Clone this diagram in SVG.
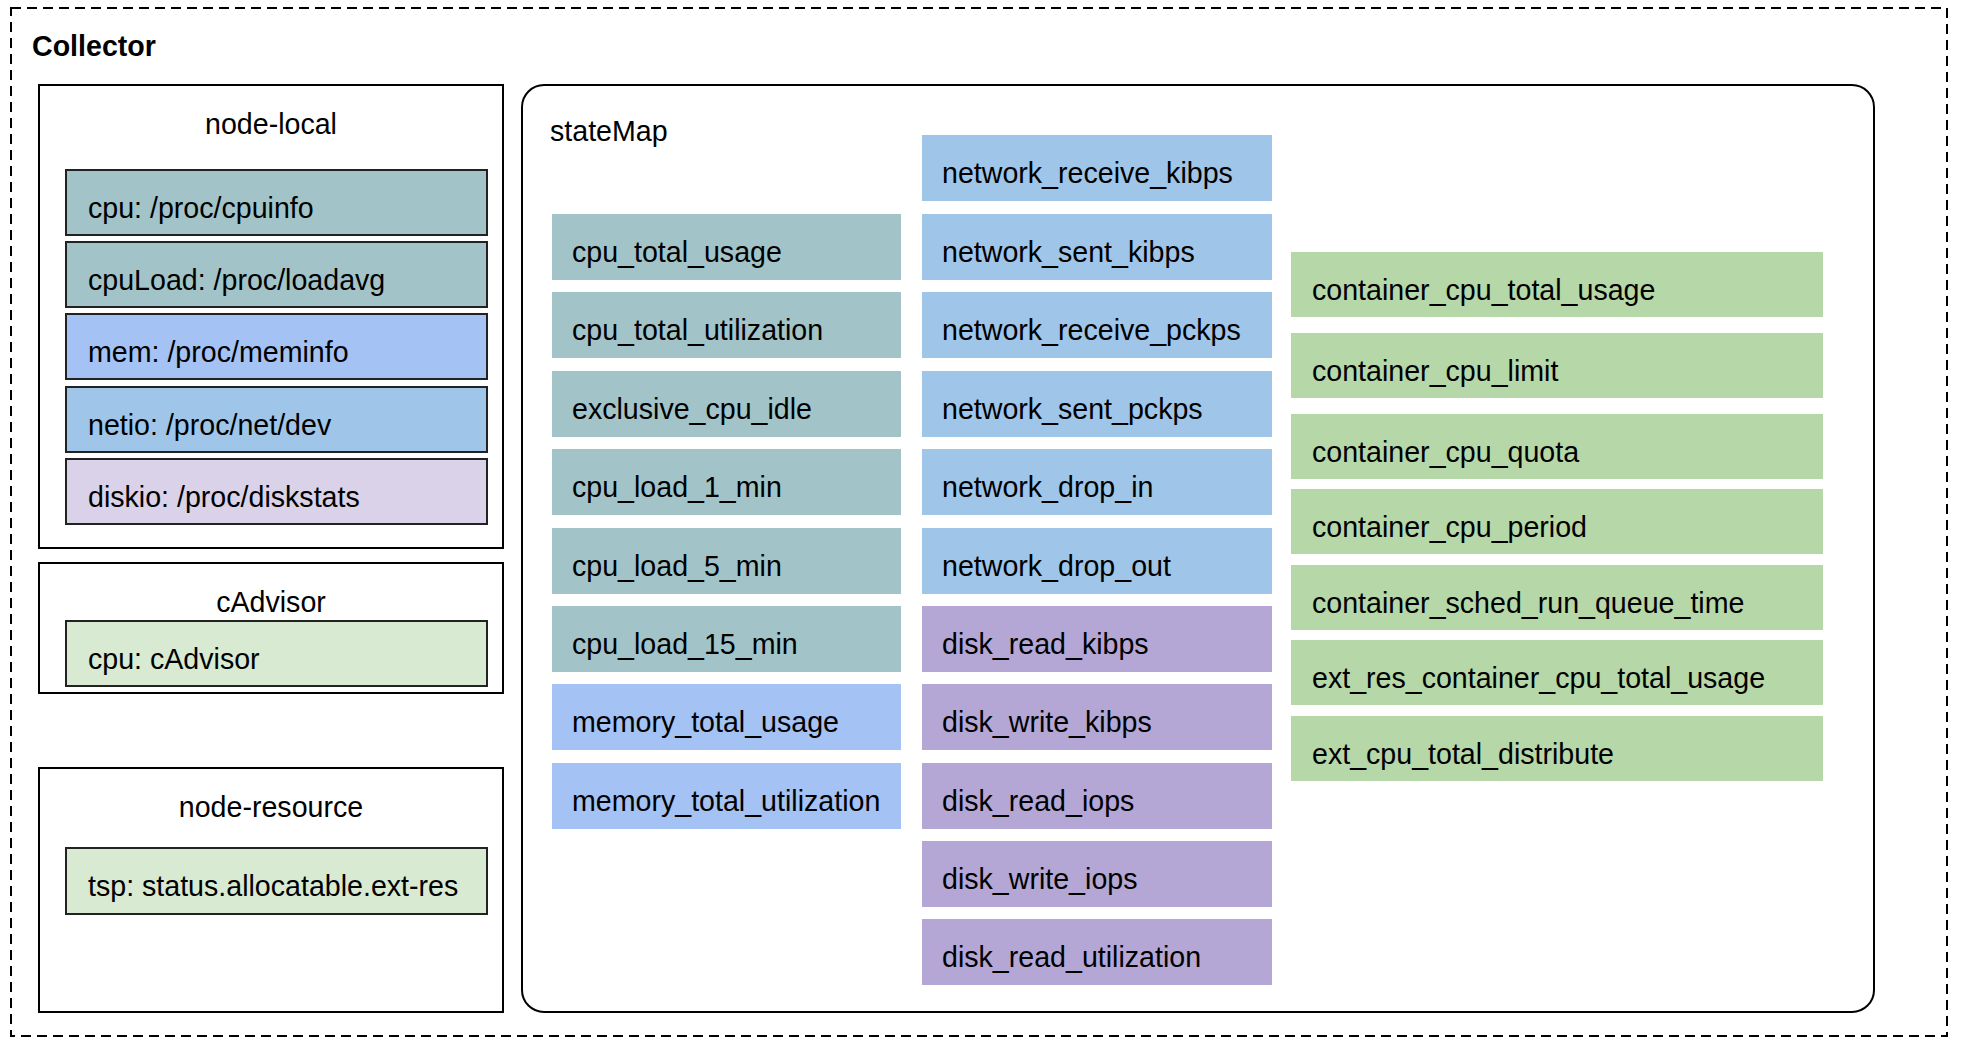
<svg xmlns="http://www.w3.org/2000/svg" width="1962" height="1052" viewBox="0 0 1962 1052">
<style>
text{font-family:"Liberation Sans",Arial,sans-serif;font-size:28.6px;fill:#000}
.title{text-anchor:middle}
.bold{font-weight:bold}
.group{fill:#fff;stroke:#000;stroke-width:2}
.src{stroke:#222;stroke-width:2}
.teal{fill:#a2c4c9}
.mem{fill:#a4c2f4}
.net{fill:#9fc5e8}
.diskl{fill:#d9d2e9}
.disk{fill:#b4a7d6}
.green{fill:#b6d7a8}
.lgreen{fill:#d9ead3}
</style>
<rect x="0" y="0" width="1962" height="1052" fill="#fff"/>
<g id="collector">
<rect x="11" y="8" width="1936" height="1028" fill="none" stroke="#000" stroke-width="2" stroke-dasharray="10 6"/>
<text x="32" y="56" class="bold">Collector</text>
</g>
<g id="node-local">
<rect class="group" x="39" y="85" width="464" height="463"/>
<text class="title" x="271" y="134">node-local</text>
<rect class="src teal" x="66" y="170" width="421" height="65"/>
<text x="88" y="218">cpu: /proc/cpuinfo</text>
<rect class="src teal" x="66" y="242" width="421" height="65"/>
<text x="88" y="290">cpuLoad: /proc/loadavg</text>
<rect class="src mem" x="66" y="314" width="421" height="65"/>
<text x="88" y="362">mem: /proc/meminfo</text>
<rect class="src net" x="66" y="387" width="421" height="65"/>
<text x="88" y="435">netio: /proc/net/dev</text>
<rect class="src diskl" x="66" y="459" width="421" height="65"/>
<text x="88" y="507">diskio: /proc/diskstats</text>
</g>
<g id="cadvisor">
<rect class="group" x="39" y="563" width="464" height="130"/>
<text class="title" x="271" y="612">cAdvisor</text>
<rect class="src lgreen" x="66" y="621" width="421" height="65"/>
<text x="88" y="669">cpu: cAdvisor</text>
</g>
<g id="node-resource">
<rect class="group" x="39" y="768" width="464" height="244"/>
<text class="title" x="271" y="817">node-resource</text>
<rect class="src lgreen" x="66" y="848" width="421" height="66"/>
<text x="88" y="896">tsp: status.allocatable.ext-res</text>
</g>
<g id="statemap">
<rect x="522" y="85" width="1352" height="927" rx="22" ry="22" fill="#fff" stroke="#000" stroke-width="2"/>
<text x="550" y="141">stateMap</text>
</g>
<g id="col1">
<rect class="teal" x="552" y="214" width="349" height="66"/><text x="572" y="262">cpu_total_usage</text>
<rect class="teal" x="552" y="292" width="349" height="66"/><text x="572" y="340">cpu_total_utilization</text>
<rect class="teal" x="552" y="371" width="349" height="66"/><text x="572" y="419">exclusive_cpu_idle</text>
<rect class="teal" x="552" y="449" width="349" height="66"/><text x="572" y="497">cpu_load_1_min</text>
<rect class="teal" x="552" y="528" width="349" height="66"/><text x="572" y="576">cpu_load_5_min</text>
<rect class="teal" x="552" y="606" width="349" height="66"/><text x="572" y="654">cpu_load_15_min</text>
<rect class="mem" x="552" y="684" width="349" height="66"/><text x="572" y="732">memory_total_usage</text>
<rect class="mem" x="552" y="763" width="349" height="66"/><text x="572" y="811">memory_total_utilization</text>
</g>
<g id="col2">
<rect class="net" x="922" y="135" width="350" height="66"/><text x="942" y="183">network_receive_kibps</text>
<rect class="net" x="922" y="214" width="350" height="66"/><text x="942" y="262">network_sent_kibps</text>
<rect class="net" x="922" y="292" width="350" height="66"/><text x="942" y="340">network_receive_pckps</text>
<rect class="net" x="922" y="371" width="350" height="66"/><text x="942" y="419">network_sent_pckps</text>
<rect class="net" x="922" y="449" width="350" height="66"/><text x="942" y="497">network_drop_in</text>
<rect class="net" x="922" y="528" width="350" height="66"/><text x="942" y="576">network_drop_out</text>
<rect class="disk" x="922" y="606" width="350" height="66"/><text x="942" y="654">disk_read_kibps</text>
<rect class="disk" x="922" y="684" width="350" height="66"/><text x="942" y="732">disk_write_kibps</text>
<rect class="disk" x="922" y="763" width="350" height="66"/><text x="942" y="811">disk_read_iops</text>
<rect class="disk" x="922" y="841" width="350" height="66"/><text x="942" y="889">disk_write_iops</text>
<rect class="disk" x="922" y="919" width="350" height="66"/><text x="942" y="967">disk_read_utilization</text>
</g>
<g id="col3">
<rect class="green" x="1291" y="252" width="532" height="65"/><text x="1312" y="300">container_cpu_total_usage</text>
<rect class="green" x="1291" y="333" width="532" height="65"/><text x="1312" y="381">container_cpu_limit</text>
<rect class="green" x="1291" y="414" width="532" height="65"/><text x="1312" y="462">container_cpu_quota</text>
<rect class="green" x="1291" y="489" width="532" height="65"/><text x="1312" y="537">container_cpu_period</text>
<rect class="green" x="1291" y="565" width="532" height="65"/><text x="1312" y="613">container_sched_run_queue_time</text>
<rect class="green" x="1291" y="640" width="532" height="65"/><text x="1312" y="688">ext_res_container_cpu_total_usage</text>
<rect class="green" x="1291" y="716" width="532" height="65"/><text x="1312" y="764">ext_cpu_total_distribute</text>
</g>
<g id="connectors"></g>
</svg>
